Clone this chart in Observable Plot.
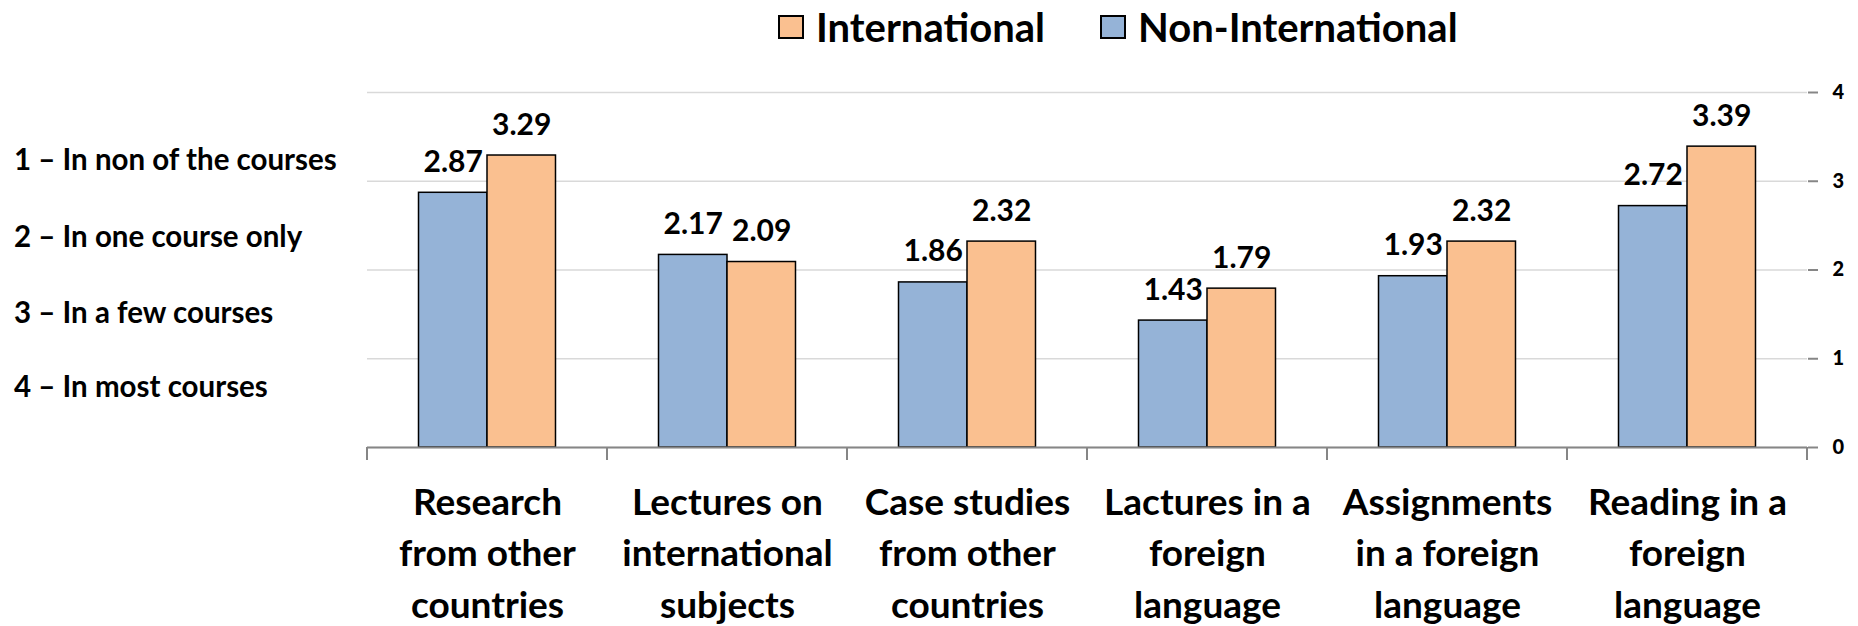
<!DOCTYPE html>
<html>
<head>
<meta charset="utf-8">
<script src="https://cdn.jsdelivr.net/npm/d3@7"></script>
<script src="https://cdn.jsdelivr.net/npm/@observablehq/plot@0.6"></script>
<style>
  body { margin: 0; background: #fff; font-family: Lato, "Open Sans", sans-serif; }
  #wrap { position: relative; width: 1858px; height: 626px; overflow: hidden; background: #fff; }
  #legend { position: relative; height: 56px; }
  .item { position: absolute; top: 0; height: 54px; display: flex; align-items: center; font-weight: bold; font-size: 40px; color: #000; white-space: nowrap; }
  .sw { width: 22px; height: 20px; border: 2px solid #000; margin-right: 12px; box-sizing: content-box; }
  .note { position: absolute; left: 14px; font-weight: bold; font-size: 29.5px; line-height: 1; color: #000; white-space: nowrap; }
  #chart svg { display: block; }
</style>
</head>
<body>
<div id="wrap">
  <div id="legend"></div>
  <div id="notes"></div>
  <div id="chart"></div>
</div>
<script>
// ---- data ----
const categories = [
  "Research from other countries",
  "Lectures on international subjects",
  "Case studies from other countries",
  "Lactures in a foreign language",
  "Assignments in a foreign language",
  "Reading in a foreign language"
];
const categoryLabels = [
  "Research\nfrom other\ncountries",
  "Lectures on\ninternational\nsubjects",
  "Case studies\nfrom other\ncountries",
  "Lactures in a\nforeign\nlanguage",
  "Assignments\nin a foreign\nlanguage",
  "Reading in a\nforeign\nlanguage"
];
const nonInternational = [2.87, 2.17, 1.86, 1.43, 1.93, 2.72];
const international = [3.29, 2.09, 2.32, 1.79, 2.32, 3.39];
const seriesNames = ["Non-International", "International"];
const seriesColors = ["#95B3D7", "#FAC090"];
const legendOrder = ["International", "Non-International"];
const yTicks = [0, 1, 2, 3, 4];
const scaleNotes = [
  "1 – In non of the courses",
  "2 – In one course only",
  "3 – In a few courses",
  "4 – In most courses"
];

// ---- table ----
const rows = categories.flatMap((c, i) => [
  {category: c, series: "Non-International", value: nonInternational[i]},
  {category: c, series: "International", value: international[i]}
]);
const labelOf = new Map(categories.map((c, i) => [c, categoryLabels[i]]));
const colorOf = new Map(seriesNames.map((s, i) => [s, seriesColors[i]]));

// ---- legend ----
const legendLefts = [778, 1100];
const legend = document.getElementById("legend");
legendOrder.forEach((s, i) => {
  const it = document.createElement("div");
  it.className = "item";
  it.style.left = legendLefts[i] + "px";
  const sw = document.createElement("span");
  sw.className = "sw";
  sw.style.background = colorOf.get(s);
  it.appendChild(sw);
  it.appendChild(document.createTextNode(s));
  legend.appendChild(it);
});

// ---- left notes ----
const noteTops = [144, 221, 297, 371];
const notes = document.getElementById("notes");
scaleNotes.forEach((t, i) => {
  const d = document.createElement("div");
  d.className = "note";
  d.style.top = noteTops[i] + "px";
  d.textContent = t;
  notes.appendChild(d);
});

// ---- chart ----
const chart = Plot.plot({
  width: 1858,
  height: 570,
  marginTop: 36,
  marginBottom: 179,
  marginLeft: 367,
  marginRight: 51,
  style: {fontFamily: "Lato, 'Open Sans', sans-serif", background: "white", color: "black"},
  fx: {domain: categories, padding: 0, round: false, axis: null},
  x: {domain: seriesNames, paddingInner: 0, paddingOuter: 0.752, round: false, axis: null},
  y: {domain: [0, 4], axis: null},
  color: {domain: seriesNames, range: seriesColors},
  marks: [
    Plot.gridY(yTicks, {stroke: "#D9D9D9", strokeOpacity: 1, strokeWidth: 1.5}),
    Plot.barY(rows, {fx: "category", x: "series", y: "value", fill: "series", stroke: "black", strokeWidth: 1.5}),
    Plot.ruleY([0], {stroke: "#868686", strokeWidth: 2}),
    Plot.text(rows, {
      fx: "category", x: "series", y: "value",
      text: d => d.value.toFixed(2),
      lineAnchor: "bottom", dy: -21,
      fontSize: 30, fontWeight: "bold", fill: "black"
    }),
    Plot.text(categories, {
      fx: d => d,
      text: d => labelOf.get(d),
      frameAnchor: "bottom", lineAnchor: "top", dy: 31, lineHeight: 1.39,
      fontSize: 37, fontWeight: "bold", fill: "black"
    }),
    Plot.axisY(yTicks, {
      anchor: "right", tickSize: 10, tickPadding: 15, line: true, label: null,
      tickFormat: d => String(d),
      stroke: "#868686", strokeWidth: 2, fill: "black",
      fontSize: 20, fontWeight: 900, textAnchor: "start"
    })
  ]
});
document.getElementById("chart").appendChild(chart);

// category boundary ticks, positioned with the plot's own scales
const fx = chart.scale("fx");
const ys = chart.scale("y");
const y0 = ys.apply(0);
const starts = fx.domain.map(c => fx.apply(c));
const bounds = starts.concat([starts[starts.length - 1] + fx.bandwidth]);
d3.select(chart).append("g")
  .selectAll("line").data(bounds).join("line")
  .attr("x1", d => d).attr("x2", d => d)
  .attr("y1", y0).attr("y2", y0 + 13)
  .attr("stroke", "#868686").attr("stroke-width", 2);
</script>
</body>
</html>
